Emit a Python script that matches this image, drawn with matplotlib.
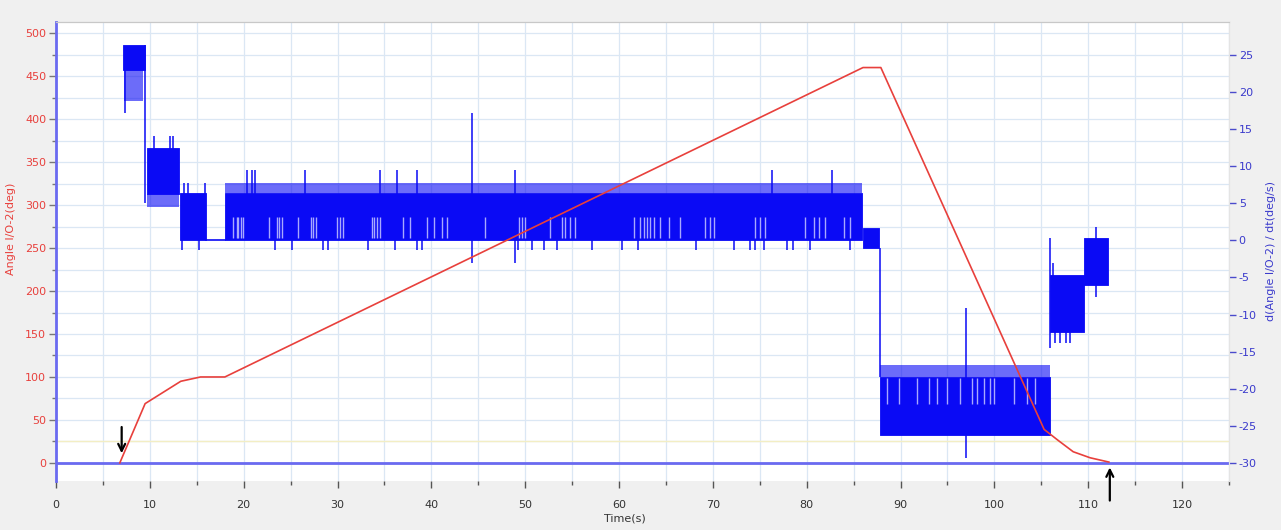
import matplotlib
matplotlib.use("Agg")
import matplotlib.pyplot as plt
from matplotlib.ticker import MultipleLocator

plt.rcParams['font.family'] = ['DejaVu Sans']
plt.rcParams['axes.unicode_minus'] = False

# ---- Angle I/O-2 (deg): breakpoints of the red trace ----
angle_t = [6.8, 9.5, 13.3, 15.4, 18.0, 86.0, 87.9, 105.3, 106.7, 108.4, 110.2, 112.2]
angle_v = [0, 69, 95, 100, 100, 460, 460, 39, 27, 13, 6, 1]

# ---- d(Angle I/O-2)/dt (deg/s): dense bands of the quantised trace ----
band_t0 = [7.15, 9.7, 13.2, 18.0, 86.0, 87.85, 105.9, 109.6]
band_t1 = [9.5, 13.1, 16.0, 85.9, 87.75, 105.9, 109.5, 112.15]
band_lo = [22.9, 6.3, 0.0, 0.0, -1.0, -26.2, -12.3, -6.0]
band_hi = [26.3, 12.4, 6.4, 6.4, 1.7, -18.4, -4.7, 0.3]

# lighter fringes where the trace flickers between two levels
fringe_t0 = [7.3, 9.7, 18.0, 87.85]
fringe_t1 = [9.3, 13.1, 85.9, 105.9]
fringe_lo = [18.7, 4.5, 6.4, -18.4]
fringe_hi = [22.9, 6.3, 7.7, -16.8]

# hold at zero between the two bursts
hold_t = [16.0, 18.0]
hold_v = [0.0, 0.0]

# isolated excursions and level transitions
spike_t = [9.5, 7.35, 10.45, 12.15, 12.5, 13.65, 14.07, 15.9, 13.43, 15.25,
           20.36, 20.9, 21.2, 26.5, 34.5, 36.35, 38.5, 76.3, 82.7,
           44.35, 48.9,
           23.35, 25.16, 28.46, 29.0, 33.26, 36.14, 38.49, 39.0, 49.25, 50.75,
           52.0, 53.4, 57.1, 60.3, 62.0, 68.2, 72.2, 74.0, 74.5, 75.4, 77.9,
           78.5, 80.4, 84.6,
           87.8, 97.0, 105.9, 106.2, 106.5, 107.0, 107.6, 108.1, 110.8]
spike_lo = [5.0, 17.2, 12.0, 12.0, 12.0, 6.0, 6.0, 6.0, -1.3, -1.3,
            6.0, 6.0, 6.0, 6.0, 6.0, 6.0, 6.0, 6.0, 6.0,
            -3.0, -3.0,
            -1.3, -1.3, -1.3, -1.3, -1.3, -1.3, -1.3, -1.3, -1.3, -1.3,
            -1.3, -1.3, -1.3, -1.3, -1.3, -1.3, -1.3, -1.3, -1.3, -1.3, -1.3,
            -1.3, -1.3, -1.3,
            -18.4, -29.3, -14.5, -12.0, -13.8, -13.8, -13.8, -13.8, -7.6]
spike_hi = [26.3, 22.9, 14.0, 14.0, 14.0, 7.7, 7.7, 7.7, 0.0, 0.0,
            9.5, 9.5, 9.5, 9.5, 9.5, 9.5, 9.5, 9.5, 9.5,
            17.2, 9.5,
            0.0, 0.0, 0.0, 0.0, 0.0, 0.0, 0.0, 0.0, 0.0, 0.0,
            0.0, 0.0, 0.0, 0.0, 0.0, 0.0, 0.0, 0.0, 0.0, 0.0, 0.0,
            0.0, 0.0, 0.0,
            -1.0, -9.1, 0.3, -3.0, -12.3, -12.3, -12.3, -12.3, 1.8]

# instants where the trace stays high (light streaks at the bottom of the 18-86 s burst)
gap_a_t = [18.9, 19.27, 19.44, 19.69, 19.97, 22.74, 23.59, 23.8, 24.06, 25.84,
           27.15, 27.43, 27.72, 29.99, 30.28, 30.63, 33.66, 33.9, 34.19, 34.54,
           36.96, 37.74, 39.58, 40.23, 41.12, 41.65, 45.74, 49.29, 49.65, 50.0,
           52.67, 53.91, 54.26, 54.8, 55.33, 61.55, 62.26, 62.61, 62.97, 63.33,
           63.68, 64.39, 65.28, 66.45, 69.19, 69.72, 70.15, 74.52, 75.05, 75.59,
           79.85, 80.74, 81.27, 81.98, 83.94, 84.65]
gap_a_lo = 0.3
gap_a_hi = 3.2

# instants where the trace drops (light streaks at the top of the 88-106 s burst)
gap_b_t = [88.56, 89.8, 91.76, 93.0, 93.89, 94.95, 96.37, 97.62, 98.15, 98.86,
           99.57, 99.93, 102.06, 103.49, 104.37]
gap_b_lo = -22.0
gap_b_hi = -18.6

# event markers: (time, tail, head) in angle units
mark_t = [7.0, 112.3]
mark_tail = [45, -47]
mark_head = [8, -2]

x_major = list(range(0, 121, 10))
left_ticks = list(range(0, 501, 50))
right_ticks = list(range(-30, 26, 5))

RED = '#e8403c'
BLUE = '#0a0af5'
LIGHT = '#a8a8ff'
AXBLUE = '#6a6af0'
GRID = '#dbe7f4'

fig = plt.figure(figsize=(12.81, 5.30), dpi=100, facecolor='#f0f0f0')
ax = fig.add_axes([0.0437, 0.0925, 0.9157, 0.866])
ax.set_facecolor('white')
ax2 = ax.twinx()

ax.set_xlim(0, 125)
ax.set_ylim(-21, 513)
ax2.set_ylim(-32.4, 29.4)

# grid on the angle axis
ax.xaxis.set_major_locator(MultipleLocator(10))
ax.xaxis.set_minor_locator(MultipleLocator(5))
ax.yaxis.set_major_locator(MultipleLocator(50))
ax.yaxis.set_minor_locator(MultipleLocator(25))
ax.set_axisbelow(True)
ax.grid(True, which='both', color=GRID, lw=0.9)
ax.axhline(25, color='#f3eec4', lw=1.0, zorder=0.8)
ax.axhline(0, color=AXBLUE, lw=2.0, zorder=1.5)

# derivative trace on the right axis
for t0, t1, lo, hi in zip(band_t0, band_t1, band_lo, band_hi):
    ax2.fill_between([t0, t1], [lo, lo], [hi, hi], color=BLUE, lw=0.6,
                     edgecolor=BLUE, zorder=2)
for t0, t1, lo, hi in zip(fringe_t0, fringe_t1, fringe_lo, fringe_hi):
    ax2.fill_between([t0, t1], [lo, lo], [hi, hi], color=BLUE, alpha=0.6,
                     lw=0, zorder=2)
ax2.vlines(gap_a_t, gap_a_lo, gap_a_hi, color=LIGHT, lw=1.0, zorder=2.2)
ax2.vlines(gap_b_t, gap_b_lo, gap_b_hi, color=LIGHT, lw=1.0, zorder=2.2)
ax2.plot(hold_t, hold_v, color=BLUE, lw=1.2, zorder=2)
ax2.vlines(spike_t, spike_lo, spike_hi, color=BLUE, lw=1.1, zorder=2.4)

# angle trace, drawn above the derivative
ax2.plot(angle_t, angle_v, color=RED, lw=1.2, zorder=4, transform=ax.transData)

for t, tail, head in zip(mark_t, mark_tail, mark_head):
    ax2.annotate('', xy=(t, head), xytext=(t, tail),
                 xycoords=ax.transData, textcoords=ax.transData,
                 annotation_clip=False,
                 arrowprops=dict(arrowstyle='->,head_length=0.5,head_width=0.25',
                                 color='black', lw=1.6), zorder=5)

# axes styling
ax.set_xticks(x_major)
ax.set_yticks(left_ticks)
ax2.set_yticks(right_ticks)
ax.tick_params(axis='x', which='major', length=5, width=1, color='#555555',
               labelsize=8, labelcolor='#333333', pad=9)
ax.tick_params(axis='x', which='minor', length=3, width=1, color='#555555')
ax.tick_params(axis='y', which='major', length=5, width=1, color='#777777',
               labelsize=8, labelcolor=RED, pad=2)
ax.tick_params(axis='y', which='minor', length=3, width=1, color='#777777')
ax2.tick_params(axis='y', length=5, width=1, color='#4a4acc',
                labelsize=8, labelcolor='#3a3acc', pad=2)

for sp in ['bottom']:
    ax.spines[sp].set_visible(False)
    ax2.spines[sp].set_visible(False)
ax.spines['left'].set_color(AXBLUE)
ax.spines['left'].set_linewidth(2)
ax2.spines['left'].set_visible(False)
for a in (ax, ax2):
    a.spines['top'].set_color('#c8c8c8')
    a.spines['right'].set_color('#e4e4e4')

ax.set_xlabel('Time(s)', fontsize=8, color='#333333')
ax.xaxis.set_label_coords(0.485, -0.071)
ax.set_ylabel('Angle I/O-2(deg)', fontsize=8, color=RED)
ax.yaxis.set_label_coords(-0.034, 0.55)
ax2.set_ylabel('d(Angle I/O-2) / dt(deg/s)', fontsize=8, color='#3a3acc')
ax2.yaxis.set_label_coords(1.0315, 0.50)

fig.savefig('out.png', dpi=100, facecolor=fig.get_facecolor())
